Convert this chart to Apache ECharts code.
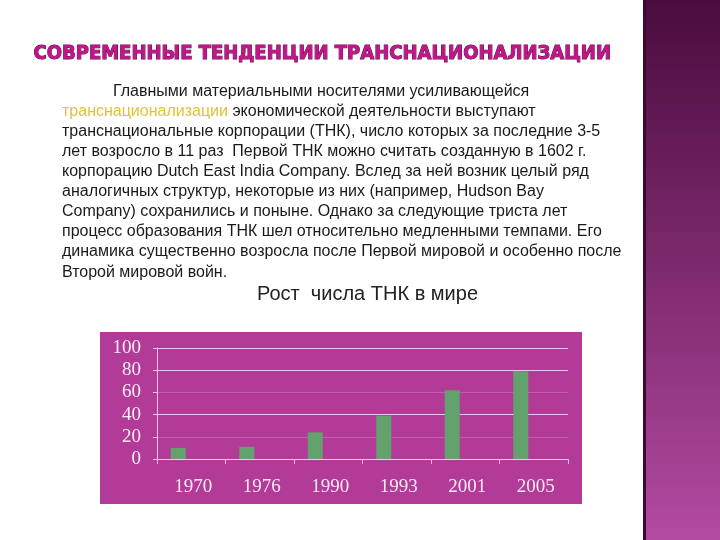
<!DOCTYPE html>
<html>
<head>
<meta charset="utf-8">
<script src="https://cdn.jsdelivr.net/npm/echarts@6/dist/echarts.min.js"></script>
<style>
  html, body { margin: 0; padding: 0; background: #fff; }
  #chart { width: 720px; height: 540px; }
</style>
</head>
<body>
<div id="chart"></div>
<script>
// chart data
const years = ['1970', '1976', '1990', '1993', '2001', '2005'];
const tnkCount = [10, 11, 24, 39, 62, 79];
const yTicks = [0, 20, 40, 60, 80, 100];

// slide texts
const slideTitle = 'СОВРЕМЕННЫЕ ТЕНДЕНЦИИ ТРАНСНАЦИОНАЛИЗАЦИИ';
const chartCaption = 'Рост  числа ТНК в мире';
const bodyLines = [
  'Главными материальными носителями усиливающейся',
  '{hl|транснационализации} экономической деятельности выступают',
  'транснациональные корпорации (ТНК), число которых за последние 3-5',
  'лет возросло в 11 раз  Первой ТНК можно считать созданную в 1602 г.',
  'корпорацию Dutch East India Company. Вслед за ней возник целый ряд',
  'аналогичных структур, некоторые из них (например, Hudson Bay',
  'Company) сохранились и поныне. Однако за следующие триста лет',
  'процесс образования ТНК шел относительно медленными темпами. Его',
  'динамика существенно возросла после Первой мировой и особенно после',
  'Второй мировой войн.'
];

const chart = echarts.init(document.getElementById('chart'));

// paragraph lines as graphic text
const bodyFont = '16px "Liberation Sans", sans-serif';
const textEls = bodyLines.map((line, i) => ({
  type: 'text',
  left: i === 0 ? 113 : 62,
  top: 84 + i * 20 + (i === 9 ? 1 : 0),
  style: {
    text: line,
    fill: '#1a1a1a',
    font: bodyFont,
    rich: {
      hl: { fill: '#e0c23a', font: bodyFont }
    }
  }
}));

const option = {
  backgroundColor: '#ffffff',
  animation: false,
  graphic: [
    // purple side band
    {
      type: 'rect',
      shape: { x: 643, y: 0, width: 77, height: 540 },
      style: {
        fill: new echarts.graphic.LinearGradient(0, 0, 0, 1, [
          { offset: 0, color: '#4a0c3e' },
          { offset: 0.5, color: '#7e2a6e' },
          { offset: 1, color: '#b34aa2' }
        ])
      }
    },
    {
      type: 'rect',
      shape: { x: 643, y: 0, width: 3, height: 540 },
      style: { fill: '#3a0a30' }
    },
    // chart panel
    {
      type: 'rect',
      z: -1,
      shape: { x: 100, y: 332, width: 482, height: 172 },
      style: { fill: '#b23b97' }
    },
    {
      type: 'text',
      left: 33,
      top: 43,
      style: {
        text: slideTitle,
        fill: '#c0168a',
        stroke: '#5e0a46',
        lineWidth: 1,
        font: 'bold 20px "DejaVu Sans Condensed", "DejaVu Sans", sans-serif'
      }
    },
    {
      type: 'text',
      left: 257,
      top: 284,
      style: {
        text: chartCaption,
        fill: '#222',
        font: '20px "Liberation Sans", sans-serif'
      }
    },
    ...textEls
  ],
  grid: { left: 157, right: 152, top: 348, bottom: 81, containLabel: false },
  xAxis: {
    type: 'category',
    data: years,
    axisLine: { lineStyle: { color: '#f0c6e6', width: 1 } },
    axisTick: { show: true, length: 5, lineStyle: { color: '#e8b2dc' } },
    axisLabel: {
      color: '#f8eaf5',
      fontFamily: 'Liberation Serif',
      fontSize: 19,
      margin: 19,
      padding: [0, 0, 0, 4]
    }
  },
  yAxis: {
    type: 'value',
    min: 0,
    max: 100,
    interval: 20,
    axisLine: { show: true, lineStyle: { color: '#f0c6e6' } },
    axisTick: { show: true, length: 4, lineStyle: { color: '#f0c6e6' } },
    axisLabel: {
      color: '#fbeef8',
      fontFamily: 'Liberation Serif',
      fontSize: 19,
      margin: 16,
      formatter: v => yTicks.includes(v) ? String(v) : ''
    },
    splitLine: {
      lineStyle: {
        color: ['#f0c6e6', '#c45aab', '#f0c6e6', '#c45aab', '#f0c6e6', '#f0c6e6'],
        width: 1
      }
    }
  },
  series: [
    {
      name: 'ТНК',
      type: 'bar',
      data: tnkCount,
      barWidth: 15,
      barGap: '73%',
      itemStyle: { color: '#63a26d' }
    },
    {
      name: 'empty',
      type: 'bar',
      data: years.map(() => null),
      barWidth: 15
    }
  ]
};

chart.setOption(option);
</script>
</body>
</html>
